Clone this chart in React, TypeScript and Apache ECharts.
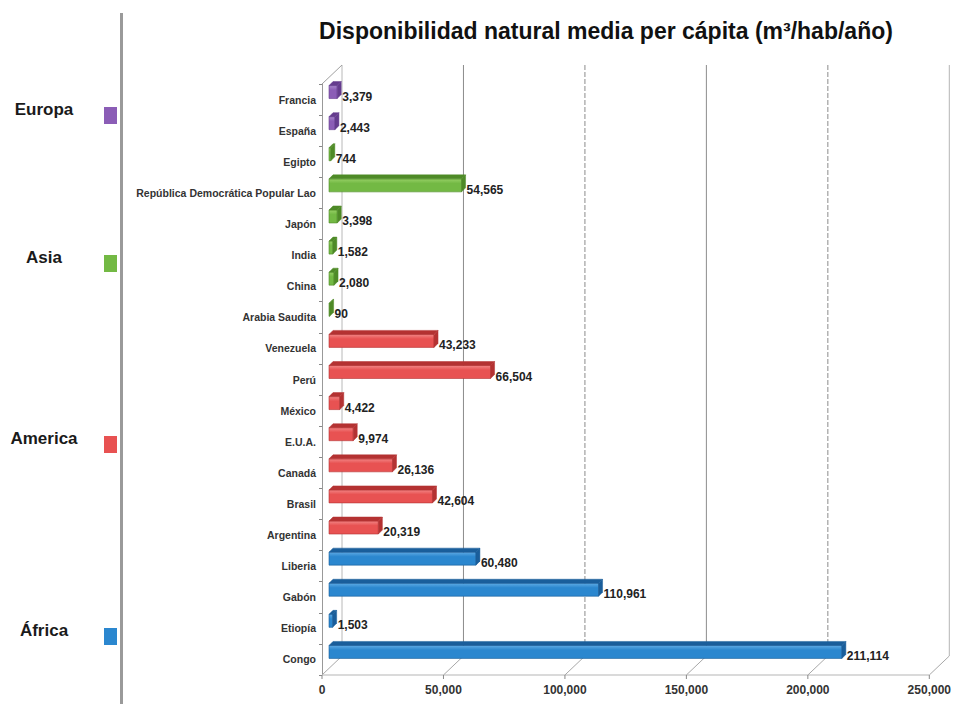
import React, { useEffect, useRef } from 'react';
import * as echarts from 'echarts';

// ---- data (top to bottom) ----
const categories = [
  'Francia', 'España', 'Egipto', 'República Democrática Popular Lao', 'Japón', 'India', 'China',
  'Arabia Saudita', 'Venezuela', 'Perú', 'México', 'E.U.A.', 'Canadá', 'Brasil', 'Argentina',
  'Liberia', 'Gabón', 'Etiopía', 'Congo',
];
const values = [
  3379, 2443, 744, 54565, 3398, 1582, 2080, 90, 43233, 66504, 4422, 9974, 26136, 42604, 20319,
  60480, 110961, 1503, 211114,
];
// 0 Europa, 1 Asia, 2 America, 3 África
const regionOfCountry = [0, 0, 1, 1, 1, 1, 1, 1, 2, 2, 2, 2, 2, 2, 2, 3, 3, 3, 3];
const regions = ['Europa', 'Asia', 'America', 'África'];
const regionColors = ['#8b5db6', '#73b944', '#e85252', '#2b87cf'];
const regionLight = ['#a988cc', '#97d066', '#f28585', '#5eaae4'];
const regionDark = ['#653c8e', '#4e8a27', '#b43232', '#1a5e9b'];
const xTicks = [0, 50000, 100000, 150000, 200000, 250000];
const title = 'Disponibilidad natural media per cápita (m³/hab/año)';

const fmt = (v: number) => String(Math.round(v)).replace(/\B(?=(\d{3})+(?!\d))/g, ',');

const FONT = 'Liberation Sans, Arial, sans-serif';
const DX = 20;
const DY = -19;

export default function App() {
  const ref = useRef<HTMLDivElement>(null);

  useEffect(() => {
    if (!ref.current) return;
    const chart = echarts.init(ref.current, undefined, { renderer: 'svg' });

    const legendY = [109, 257, 438, 630];
    const graphic: any[] = [
      {
        type: 'text',
        x: 606,
        y: 31,
        style: {
          text: title,
          align: 'center',
          textAlign: 'center',
          verticalAlign: 'middle',
          textVerticalAlign: 'middle',
          fontSize: 23,
          fontWeight: 'bold',
          fontFamily: FONT,
          fill: '#111',
        },
      },
      {
        type: 'rect',
        shape: { x: 120, y: 13, width: 3, height: 700 },
        style: { fill: '#9a9a9a' },
      },
    ];
    regions.forEach((r, i) => {
      graphic.push({
        type: 'text',
        x: 44,
        y: legendY[i],
        style: {
          text: r,
          align: 'center',
          textAlign: 'center',
          verticalAlign: 'middle',
          textVerticalAlign: 'middle',
          fontSize: 17,
          fontWeight: 'bold',
          fontFamily: FONT,
          fill: '#1a1a1a',
        },
      });
      graphic.push({
        type: 'rect',
        shape: { x: 104, y: legendY[i] - 2, width: 13, height: 17 },
        style: { fill: regionColors[i] },
      });
    });

    const barData = values.map((v, i) => [v, i, regionOfCountry[i]]);
    const gridData = xTicks.map((v) => [v, 0]);

    const option: any = {
      animation: false,
      backgroundColor: '#ffffff',
      graphic,
      grid: { left: 322, right: 22, top: 84, bottom: 29, containLabel: false },
      xAxis: {
        type: 'value',
        min: 0,
        max: 250000,
        interval: 50000,
        axisLine: { show: false },
        axisTick: { show: false },
        splitLine: { show: false },
        axisLabel: {
          formatter: (v: number) => fmt(v),
          fontSize: 12,
          fontWeight: 'bold',
          fontFamily: FONT,
          color: '#333',
          margin: 9,
        },
      },
      yAxis: {
        type: 'category',
        data: categories,
        inverse: true,
        axisLine: { show: true, lineStyle: { color: '#999', width: 1 } },
        axisTick: { show: true, length: 3, lineStyle: { color: '#888' } },
        axisLabel: {
          fontSize: 10.5,
          fontWeight: 'bold',
          fontFamily: FONT,
          color: '#333',
          margin: 6,
        },
      },
      series: [
        {
          type: 'custom',
          name: 'walls',
          data: gridData,
          encode: { x: 0, y: 1 },
          clip: false,
          z: 1,
          silent: true,
          renderItem: (params: any, api: any) => {
            const v = api.value(0);
            const idx = params.dataIndex;
            const cs = params.coordSys;
            const x = api.coord([v, 0])[0];
            const yb = cs.y + cs.height;
            const yt = cs.y;
            const dashed = idx % 2 === 0 && idx > 0;
            const last = idx === xTicks.length - 1;
            const children: any[] = [
              {
                type: 'line',
                shape: { x1: x + DX, y1: yt + DY, x2: x + DX, y2: yb + DY },
                style: {
                  stroke: idx === 0 ? '#b8b8b8' : last ? '#b5b5b5' : '#8c8c8c',
                  lineWidth: 1,
                  lineDash: dashed ? [5, 2] : null,
                },
              },
              {
                type: 'line',
                shape: { x1: x, y1: yb, x2: x + DX, y2: yb + DY },
                style: { stroke: '#a8a8a8', lineWidth: 1 },
              },
              {
                type: 'line',
                shape: { x1: x, y1: yb, x2: x, y2: yb + 4 },
                style: { stroke: '#888', lineWidth: 1 },
              },
            ];
            if (idx === 0) {
              children.push({
                type: 'line',
                shape: { x1: cs.x, y1: yb, x2: cs.x + cs.width, y2: yb },
                style: { stroke: '#b5b5b5', lineWidth: 1 },
              });
              children.push({
                type: 'line',
                shape: { x1: cs.x, y1: yt, x2: cs.x + DX, y2: yt + DY },
                style: { stroke: '#a0a0a0', lineWidth: 1 },
              });
            }
            return { type: 'group', children };
          },
        },
        {
          type: 'custom',
          name: 'bars',
          data: barData,
          encode: { x: 0, y: 1 },
          clip: false,
          z: 3,
          renderItem: (params: any, api: any) => {
            const v = api.value(0);
            const c = api.value(1);
            const g = api.value(2);
            const p0 = api.coord([0, c]);
            const p1 = api.coord([v, c]);
            const bx = p0[0] + 7;
            const w = Math.max(p1[0] - p0[0], 0.6);
            const h = 13;
            const by = p0[1] - 14;
            const tx = 4;
            const ty = -4;
            const base = regionColors[g];
            const light = regionLight[g];
            const dark = regionDark[g];
            return {
              type: 'group',
              children: [
                {
                  type: 'rect',
                  shape: { x: bx, y: by, width: w, height: h },
                  style: {
                    fill: new echarts.graphic.LinearGradient(0, 0, 0, 1, [
                      { offset: 0, color: light },
                      { offset: 0.35, color: base },
                      { offset: 1, color: base },
                    ]),
                    stroke: dark,
                    lineWidth: 0.6,
                  },
                },
                {
                  type: 'polygon',
                  shape: {
                    points: [
                      [bx, by],
                      [bx + tx, by + ty],
                      [bx + w + tx, by + ty],
                      [bx + w, by],
                    ],
                  },
                  style: { fill: dark, stroke: dark, lineWidth: 0.5 },
                },
                {
                  type: 'polygon',
                  shape: {
                    points: [
                      [bx + w, by],
                      [bx + w + tx, by + ty],
                      [bx + w + tx, by + ty + h],
                      [bx + w, by + h],
                    ],
                  },
                  style: { fill: dark, stroke: dark, lineWidth: 0.5 },
                },
                {
                  type: 'text',
                  x: bx + w + tx + 1,
                  y: p0[1] - 3,
                  style: {
                    text: fmt(v),
                    fill: '#222',
                    fontSize: 12,
                    fontWeight: 'bold',
                    fontFamily: FONT,
                    align: 'left',
                    verticalAlign: 'middle',
                  },
                },
              ],
            };
          },
        },
      ],
    };

    chart.setOption(option);
    return () => chart.dispose();
  }, []);

  return (
    <div
      ref={ref}
      style={{ position: 'fixed', left: 0, top: 0, width: 954, height: 704, background: '#fff' }}
    />
  );
}
